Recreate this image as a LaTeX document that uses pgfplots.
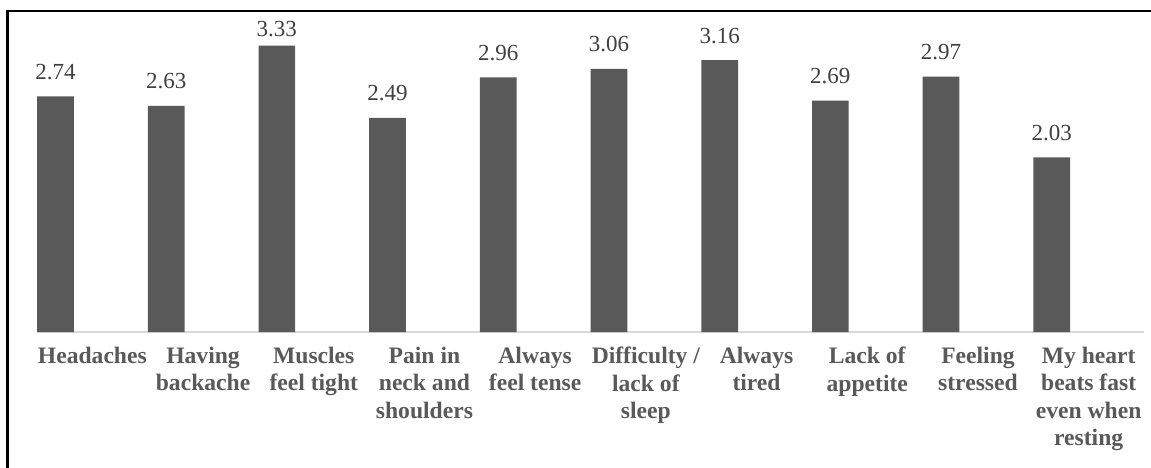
\documentclass[border=0pt]{standalone}
\usepackage{fontspec}
\setmainfont{Liberation Serif}
\usepackage{pgfplots}
\usepackage{pgfplotstable}
\pgfplotsset{compat=1.18}
\definecolor{barc}{HTML}{595959}
\definecolor{valc}{HTML}{404040}
\definecolor{basec}{HTML}{D9D9D9}
\pgfplotstableread{
x y off
0.1667 2.74 8.5
1.1667 2.63 8.5
2.1667 3.33 4.5
3.1667 2.49 8.5
4.1667 2.96 8.5
5.1667 3.06 8.5
6.1667 3.16 8.5
7.1667 2.69 8.5
8.1667 2.97 8.5
9.1667 2.03 8.5
}\datatable
\begin{document}
\begin{tikzpicture}
\begin{scope}[x=0.5pt,y=0.5pt]
\useasboundingbox (0,0) rectangle (1151,467);
\draw[black, line width=1.1pt] (7.5,-5) -- (7.5,456.3) -- (1160,456.3);
\end{scope}
\begin{axis}[
  at={(18.5pt,67.5pt)}, anchor=south west,
  scale only axis, width=553.5pt, height=160.65pt,
  xmin=0, xmax=10, ymin=0, ymax=3.736,
  clip=false,
  axis y line=none,
  axis x line=bottom,
  x axis line style={-, draw=basec, line width=0.75pt},
  major tick length=0pt,
  xtick={0.5,1.5,2.5,3.5,4.5,5.5,6.5,7.5,8.5,9.5},
  xticklabels={Headaches,{Having\\backache},{Muscles\\feel tight},{Pain in\\neck and\\shoulders},{Always\\feel tense},{Difficulty /\\lack of\\sleep},{Always\\tired},{Lack of\\appetite},{Feeling\\stressed},{My heart\\beats fast\\even when\\resting}},
  xticklabel style={anchor=north, align=center, yshift=-4pt, text=barc, font=\bfseries\fontsize{11.8}{13.75}\selectfont},
  ybar, bar width=18.35pt, bar shift=0pt,
  /pgf/number format/fixed, /pgf/number format/fixed zerofill,
  /pgf/number format/precision=2, /pgf/number format/assume math mode=true,
  nodes near coords,
  visualization depends on={\thisrow{off} \as \myoff},
  nodes near coords style={anchor=base, yshift=\myoff pt, text=valc, font=\fontsize{11.5}{13}\selectfont, inner sep=0pt},
]
\addplot[fill=barc, draw=none] table[x=x, y=y] {\datatable};
\end{axis}
\end{tikzpicture}
\end{document}
